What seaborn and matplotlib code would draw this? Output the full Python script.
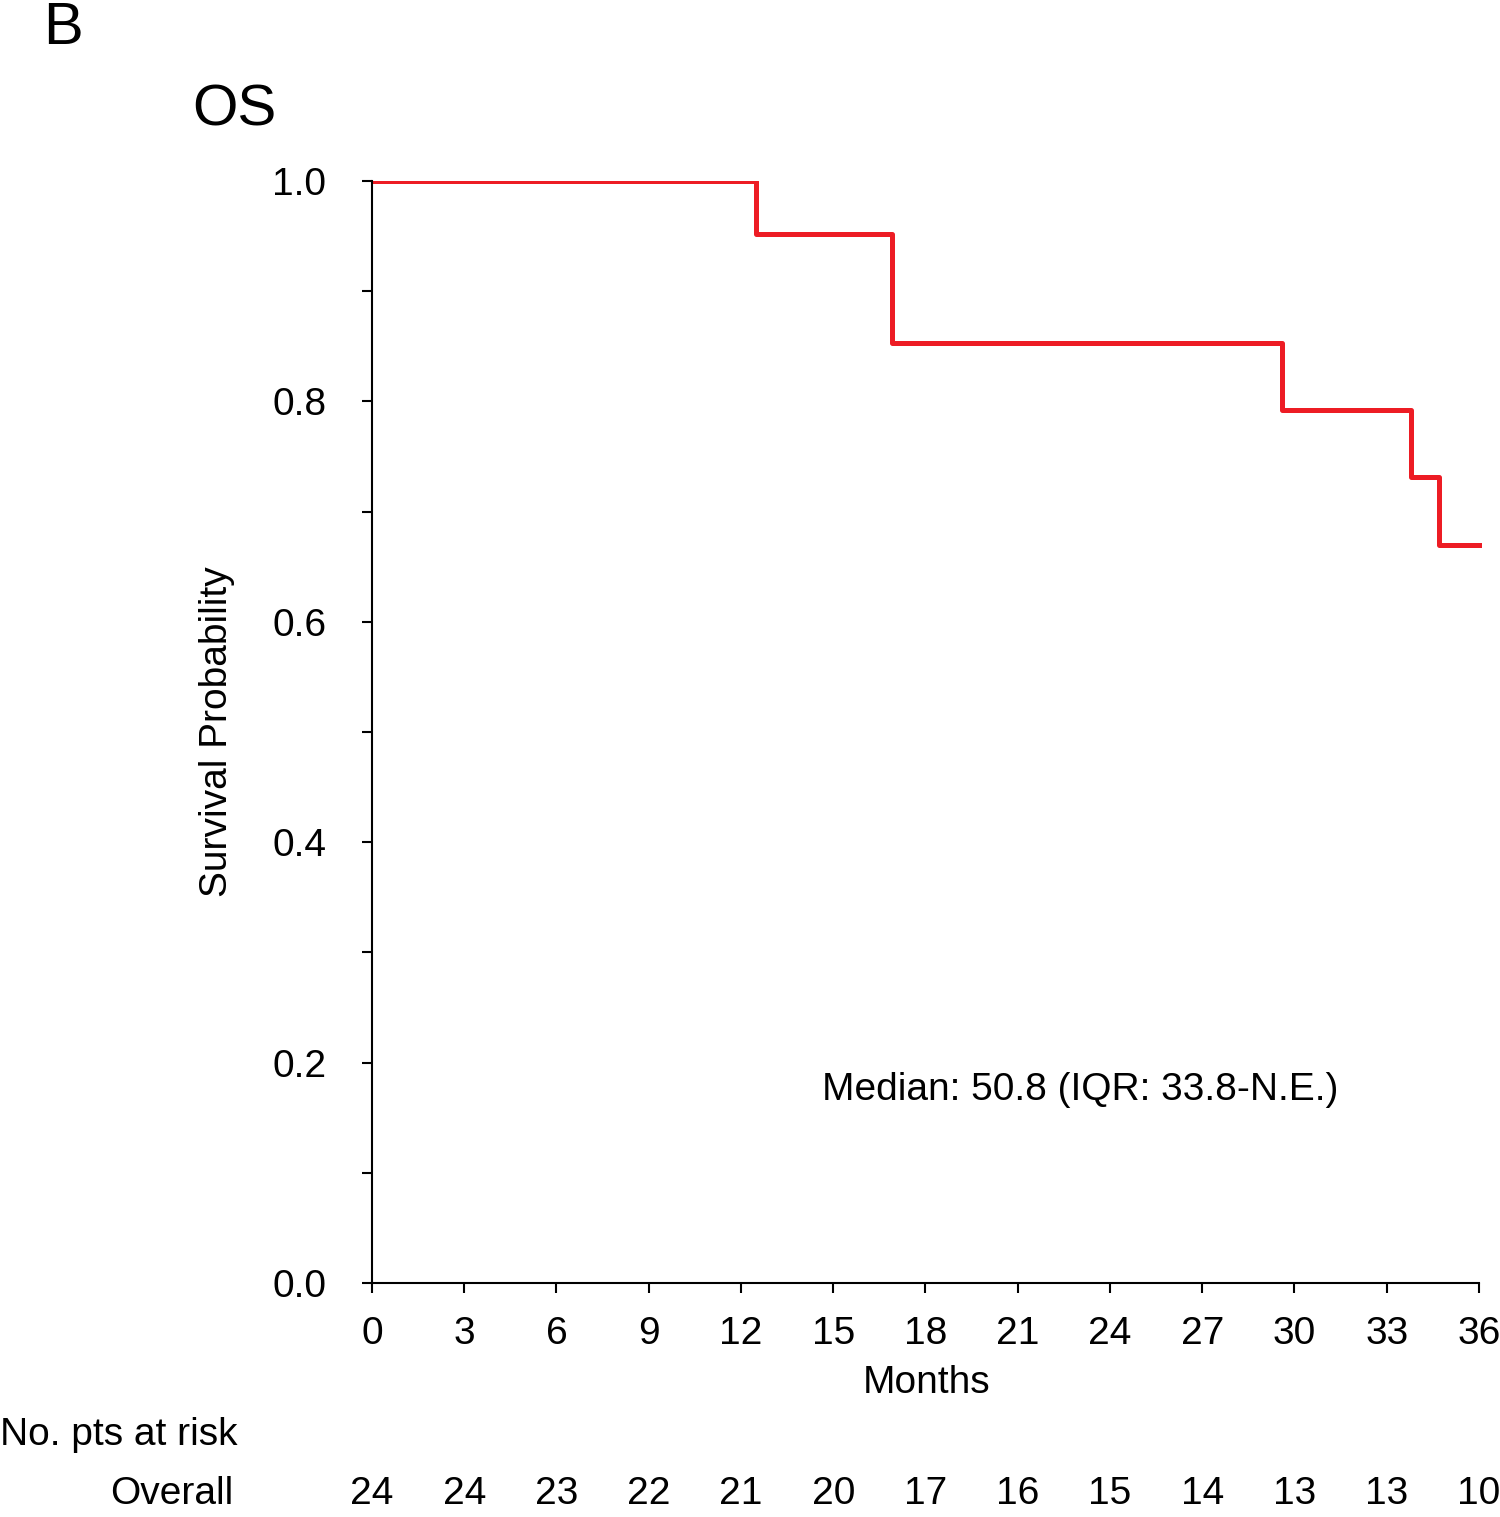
import matplotlib
matplotlib.use("Agg")
import matplotlib.pyplot as plt
import matplotlib.transforms as mtransforms
import seaborn as sns
import pandas as pd

# Data
months = [0, 12.5, 16.9, 29.6, 33.8, 34.7, 36.1]
survival = [1.0, 0.952, 0.853, 0.792, 0.731, 0.670, 0.670]
x_ticks = [0, 3, 6, 9, 12, 15, 18, 21, 24, 27, 30, 33, 36]
at_risk = [24, 24, 23, 22, 21, 20, 17, 16, 15, 14, 13, 13, 10]
y_major = [0.0, 0.2, 0.4, 0.6, 0.8, 1.0]
y_minor = [0.1, 0.3, 0.5, 0.7, 0.9]

sns.set_theme(style="ticks")
plt.rcParams['font.family'] = ['Liberation Sans', 'DejaVu Sans']

FS = 28

df = pd.DataFrame({"Months": months, "Survival": survival})

fig = plt.figure(figsize=(15, 15.17), dpi=100)
ax = fig.add_axes([0.248, 0.1543, 0.740, 0.7264])

sns.lineplot(data=df, x="Months", y="Survival", drawstyle="steps-post",
             color="#ED1C24", linewidth=3.6, ax=ax, clip_on=True)

ax.set_xlim(0, 36.1)
ax.set_ylim(0, 1.0)
ax.spines['right'].set_visible(False)
ax.spines['top'].set_visible(False)
ax.spines['bottom'].set_bounds(0, 36)
for s in ['left', 'bottom']:
    ax.spines[s].set_linewidth(1.5)
    ax.spines[s].set_color('black')

ax.set_xticks(x_ticks)
ax.set_xticklabels([str(t) for t in x_ticks])
ax.set_yticks(y_major)
ax.set_yticklabels([f"{v:.1f}" for v in y_major])
ax.set_yticks(y_minor, minor=True)
ax.tick_params(axis='both', which='major', direction='out', length=7, width=1.5,
               labelsize=FS, color='black', labelcolor='black')
ax.tick_params(axis='x', pad=17)
ax.tick_params(axis='y', pad=26)
ax.tick_params(axis='y', which='minor', direction='out', length=7, width=1.5, color='black')

ax.set_xlabel("Months", fontsize=FS, labelpad=9, color='black')
ax.set_ylabel("Survival Probability", fontsize=FS, labelpad=27, color='black')

ax.text(14.63, 0.175, "Median: 50.8 (IQR: 33.8-N.E.)", fontsize=FS,
        ha='left', va='center', color='black')

# Panel labels
fig.text(43 / 1500, 1 - 28 / 1517, "B", fontsize=43, ha='left', va='center', color='black')
fig.text(192 / 1500, 1 - 110 / 1517, "OS", fontsize=42, ha='left', va='center', color='black')

# Risk table
fig.text(0.0, 1 - 1435 / 1517, "No. pts at risk", fontsize=FS, ha='left', va='center', color='black')
row_y = 1 - 1494 / 1517
fig.text(233 / 1500, row_y, "Overall", fontsize=FS, ha='right', va='center', color='black')
trans = mtransforms.blended_transform_factory(ax.transData, fig.transFigure)
for t, n in zip(x_ticks, at_risk):
    ax.text(t, row_y, str(n), transform=trans, fontsize=FS,
            ha='center', va='center', color='black', clip_on=False)

fig.savefig("out.png", dpi=100, facecolor='white')
